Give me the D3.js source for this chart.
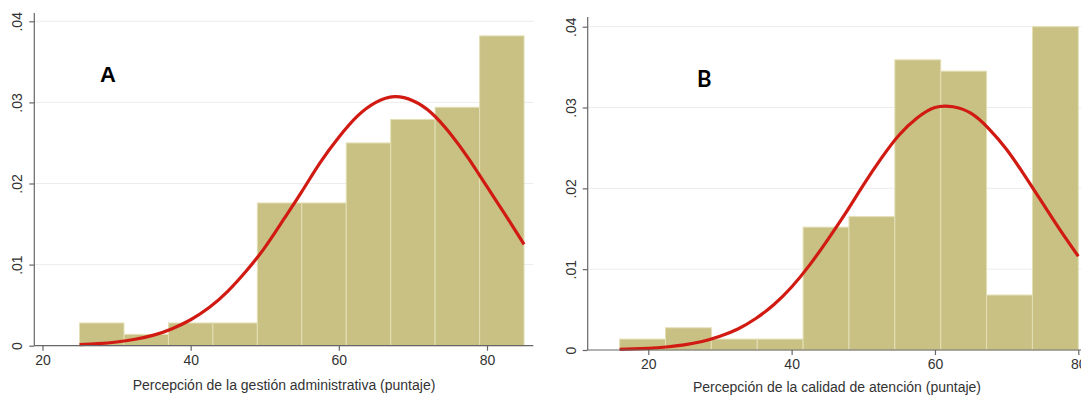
<!DOCTYPE html>
<html>
<head>
  <meta charset="utf-8">
  <title>Histogramas con curva normal</title>
  <script src="https://d3js.org/d3.v7.min.js"></script>
  <style>
    body { margin: 0; background: #fff; font-family: "Liberation Sans", Arial, sans-serif; }
    svg { display: block; }
    .grid line { stroke: #ececec; stroke-width: 1; }
    .axis text { font-family: "Liberation Sans", Arial, sans-serif; font-size: 14px; fill: #333; }
    .axis line, .axis-line { stroke: #666; stroke-width: 1.2; }
    .bar { fill: #c8c183; stroke: #e4dfb6; stroke-width: 1; }
    .curve { fill: none; stroke: #d01a12; stroke-width: 3.2; }
    .xtitle { font-size: 14px; fill: #333; text-anchor: middle; }
  </style>
</head>
<body>
  <svg width="1081" height="395"></svg>
  <script>
    // ---- data ----
    // A: Percepción de la gestión administrativa
    const binEdgesA = [25, 31, 37, 43, 49, 55, 61, 67, 73, 79, 85];
    const densityA  = [0.0028, 0.0014, 0.0028, 0.0028, 0.0176, 0.0176, 0.0250, 0.0279, 0.0294, 0.0382];
    const curveXA = [25, 27.5, 30, 32.5, 35, 37.5, 40, 42.5, 45, 47.5, 50, 52.5, 55, 57.5, 60, 62.5, 65, 67.5, 70, 72.5, 75, 77.5, 80, 82.5, 85];
    const curveYA = [0.00014, 0.00026, 0.00046, 0.00079, 0.0013, 0.0021, 0.0032, 0.0047, 0.0067, 0.0092, 0.0121, 0.0155, 0.0190,
                     0.0226, 0.0257, 0.0283, 0.0300, 0.0307, 0.0302, 0.0287, 0.0262, 0.0231, 0.0196, 0.0161, 0.0125];

    // B: Percepción de la calidad de atención
    const binEdgesB = [16, 22.4, 28.8, 35.2, 41.6, 48, 54.4, 60.8, 67.2, 73.6, 80];
    const densityB  = [0.00135, 0.00275, 0.00135, 0.00135, 0.0152, 0.0165, 0.0359, 0.0345, 0.0068, 0.0400];
    const curveXB = [16, 20, 22.5, 25, 27.5, 30, 32.5, 35, 37.5, 40, 42.5, 45, 47.5, 50, 52.5, 55, 57.5, 60, 62.5, 65, 67.5, 70, 72.5, 75, 77.5, 80];
    const curveYB = [0.00008, 0.00021, 0.00037, 0.00063, 0.00105, 0.0017, 0.0026, 0.0039, 0.0056, 0.0078, 0.0105, 0.0136, 0.0169,
                     0.0204, 0.0237, 0.0266, 0.0287, 0.0300, 0.0301, 0.0293, 0.0274, 0.0248, 0.0216, 0.0182, 0.0148, 0.0116];

    const xTicks = [20, 40, 60, 80];
    const yTicks = [0, 0.01, 0.02, 0.03, 0.04];
    const xTitleA = "Percepción de la gestión administrativa (puntaje)";
    const xTitleB = "Percepción de la calidad de atención (puntaje)";

    const svg = d3.select("svg");

    function drawPanel(p) {
      const g = svg.append("g");

      // x scale pinned on tick positions, y scale on the gridlines
      const x = d3.scaleLinear().domain([20, 80]).range([p.x20, p.x80]);
      const y = d3.scaleLinear().domain([0, 0.04]).range([p.y0, p.y04]);

      // gridlines
      g.append("g").attr("class", "grid")
        .selectAll("line").data(yTicks.slice(1)).enter().append("line")
        .attr("x1", p.left).attr("x2", p.right)
        .attr("y1", d => y(d)).attr("y2", d => y(d));

      // histogram bars
      const bins = p.density.map((d, i) => ({ x0: p.edges[i], x1: p.edges[i + 1], d: d }));
      g.append("g").selectAll("rect").data(bins).enter().append("rect")
        .attr("class", "bar")
        .attr("x", d => x(d.x0))
        .attr("width", d => x(d.x1) - x(d.x0))
        .attr("y", d => y(d.d))
        .attr("height", d => y(0) - y(d.d));

      // normal curve
      const pts = p.cx.map((v, i) => [v, p.cy[i]]);
      g.append("path").datum(pts)
        .attr("class", "curve")
        .attr("d", d3.line().x(d => x(d[0])).y(d => y(d[1])).curve(d3.curveNatural));

      // axes
      const xAxis = g.append("g").attr("class", "axis")
        .attr("transform", `translate(0,${p.y0})`)
        .call(d3.axisBottom(x).tickValues(xTicks).tickSize(5).tickPadding(4).tickFormat(d3.format("d")));
      xAxis.select(".domain").remove();

      const fmt = d => d === 0 ? "0" : d3.format(".2f")(d).replace(/^0/, "");
      const yAxis = g.append("g").attr("class", "axis")
        .attr("transform", `translate(${p.left},0)`)
        .call(d3.axisLeft(y).tickValues(yTicks).tickSize(5).tickFormat(fmt));
      yAxis.select(".domain").remove();
      yAxis.selectAll("text")
        .attr("x", null).attr("dy", null)
        .attr("text-anchor", "middle")
        .attr("transform", "translate(-12,0) rotate(-90)")
        .attr("y", 0);

      g.append("line").attr("class", "axis-line")
        .attr("x1", p.left).attr("x2", p.right).attr("y1", p.y0).attr("y2", p.y0);
      g.append("line").attr("class", "axis-line")
        .attr("x1", p.left).attr("x2", p.left).attr("y1", p.top).attr("y2", p.y0);

      // axis title
      g.append("text").attr("class", "xtitle")
        .attr("x", p.titleX).attr("y", p.titleY)
        .text(p.title);

      // panel letter
      g.append("text")
        .attr("x", p.letterX).attr("y", p.letterY)
        .style("font-family", p.letterFont)
        .style("font-weight", "bold")
        .style("font-size", p.letterSize + "px")
        .text(p.letter);
    }

    drawPanel({
      edges: binEdgesA, density: densityA, cx: curveXA, cy: curveYA,
      x20: 42.5, x80: 487, y0: 345.7, y04: 21.3,
      left: 34.3, right: 533.3, top: 13,
      title: xTitleA, titleX: 284, titleY: 390,
      letter: "A", letterX: 100, letterY: 82, letterSize: 22,
      letterFont: "'Liberation Sans', Arial, sans-serif"
    });

    drawPanel({
      edges: binEdgesB, density: densityB, cx: curveXB, cy: curveYB,
      x20: 648.3, x80: 1078.3, y0: 350, y04: 26.7,
      left: 587.7, right: 1100, top: 17,
      title: xTitleB, titleX: 837, titleY: 392,
      letter: "B", letterX: 697, letterY: 87, letterSize: 22,
      letterFont: "Lato, 'Open Sans', sans-serif"
    });
  </script>
</body>
</html>
